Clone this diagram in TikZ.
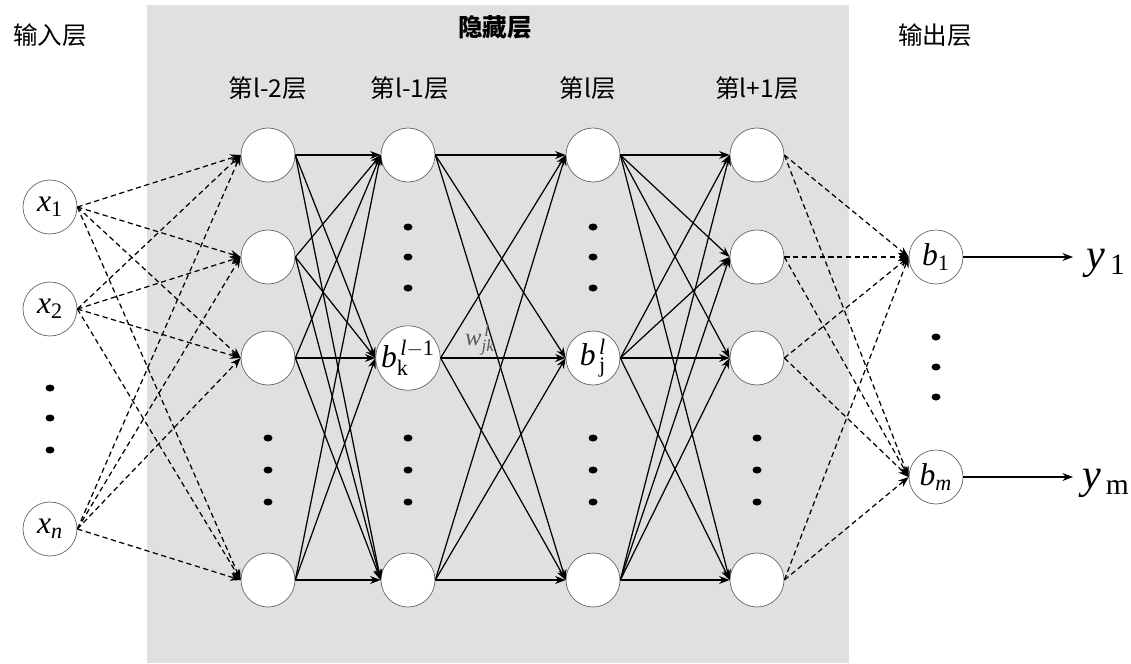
\documentclass[tikz,border=0pt]{standalone}
\usepackage{fontspec}
\setmainfont{Liberation Serif}
\newfontfamily\cjk{Noto Sans CJK SC}
\usepackage{tikz}
\usetikzlibrary{arrows.meta, positioning}

\begin{document}
\begin{tikzpicture}[
  x=0.02cm, y=-0.02cm,
  neuron/.style={circle, draw=black!60, fill=white, minimum size=1.08cm,
                 inner sep=0pt, font=\fontsize{18}{20}\selectfont},
  solidarrow/.style={-{Stealth[length=6pt, width=4.5pt]}, line width=0.7pt},
  dasharrow/.style={-{Stealth[length=6pt, width=4.5pt]}, line width=0.7pt,
                    dash pattern=on 3pt off 2pt},
  layer/.style={font=\cjk\fontsize{14}{16}\selectfont},
  outlab/.style={font=\fontsize{24}{28}\selectfont, inner sep=0pt},
  dotmark/.style={fill=black}
]
  \useasboundingbox[fill=white] (0,0) rectangle (1131,663);
  \fill[gray!24] (147,5) rectangle (849,663);

  % layer titles
  \node[layer] (tin)  at (50,35)  {输入层};
  \node[layer, font=\cjk\bfseries\fontsize{14}{16}\selectfont] (thid) at (495,27) {隐藏层};
  \node[layer] (tout) at (935,35) {输出层};
  \node[layer] (t1) at (268,88) {第l-2层};
  \node[layer] (t2) at (410,88) {第l-1层};
  \node[layer] (t3) at (588,88) {第l层};
  \node[layer] (t4) at (757,88) {第l+1层};

  % input layer
  \node[neuron] (x1) at (50,207) {$\mathit{x}_{\mathrm{1}}$};
  \node[neuron] (x2) at (50,309) {$\mathit{x}_{\mathrm{2}}$};
  \node[neuron] (xn) at (50,529) {$\mathit{x}_{\mathit{n}}$};

  % hidden layers
  \foreach \n/\y in {1/155, 2/257, 3/358, 5/580} {
    \node[neuron] (a\n) at (268,\y) {};
    \node[neuron] (d\n) at (757,\y) {};
  }
  \node[neuron] (b1) at (408,155) {};
  \node[neuron] (b3) at (408,358) {$\mathit{b}^{\,\mathit{l}-\mathrm{1}}_{\mathrm{k}}$};
  \node[neuron] (b5) at (408,580) {};
  \node[neuron] (c1) at (593,155) {};
  \node[neuron] (c3) at (593,358) {$\mathit{b}^{\,\mathit{l}}_{\,\mathrm{j}}$};
  \node[neuron] (c5) at (593,580) {};

  % output layer
  \node[neuron] (o1) at (936,257) {$\mathit{b}_{\mathrm{1}}$};
  \node[neuron] (om) at (936,477) {$\mathit{b}_{\mathit{m}}$};
  \coordinate (e1) at (1073,257);
  \coordinate (em) at (1073,477);
  \node[outlab] (y1) at (1106,263) {$\mathit{y}_{\,\mathrm{1}}$};
  \node[outlab] (ym) at (1106,483) {$\mathit{y}_{\,\mathrm{m}}$};

  % dots
  \foreach \x/\y in {50/388, 50/418, 50/450, 936/337, 936/367, 936/397,
                     268/438, 268/470, 268/502, 757/438, 757/470, 757/502,
                     408/227, 408/257, 408/288, 593/227, 593/257, 593/288,
                     408/438, 408/470, 408/502, 593/438, 593/470, 593/502}
    \fill[dotmark] (\x,\y) ellipse (4.5 and 3.5);

  % connections
  \foreach \s in {x1,x2,xn}
    \foreach \t in {a1,a2,a3,a5}
      \draw[dasharrow] (\s.east) -- (\t.west);
  \foreach \s in {a1,a2,a3,a5}
    \foreach \t in {b1,b3,b5}
      \draw[solidarrow] (\s.east) -- (\t.west);
  \foreach \s in {b1,b3,b5}
    \foreach \t in {c1,c3,c5}
      \draw[solidarrow] (\s.east) -- (\t.west);
  \foreach \s in {c1,c3,c5}
    \foreach \t in {d1,d2,d3,d5}
      \draw[solidarrow] (\s.east) -- (\t.west);
  \foreach \s in {d1,d2,d3,d5}
    \foreach \t in {o1,om}
      \draw[dasharrow] (\s.east) -- (\t.west);
  \draw[solidarrow] (o1) -- (e1);
  \draw[solidarrow] (om) -- (em);

  \node[text=black!65, inner sep=0pt, font=\fontsize{14}{16}\selectfont] (wlab) at (480,340) {$\mathit{w}^{\,\mathit{l}}_{\mathit{jk}}$};
\end{tikzpicture}
\end{document}
